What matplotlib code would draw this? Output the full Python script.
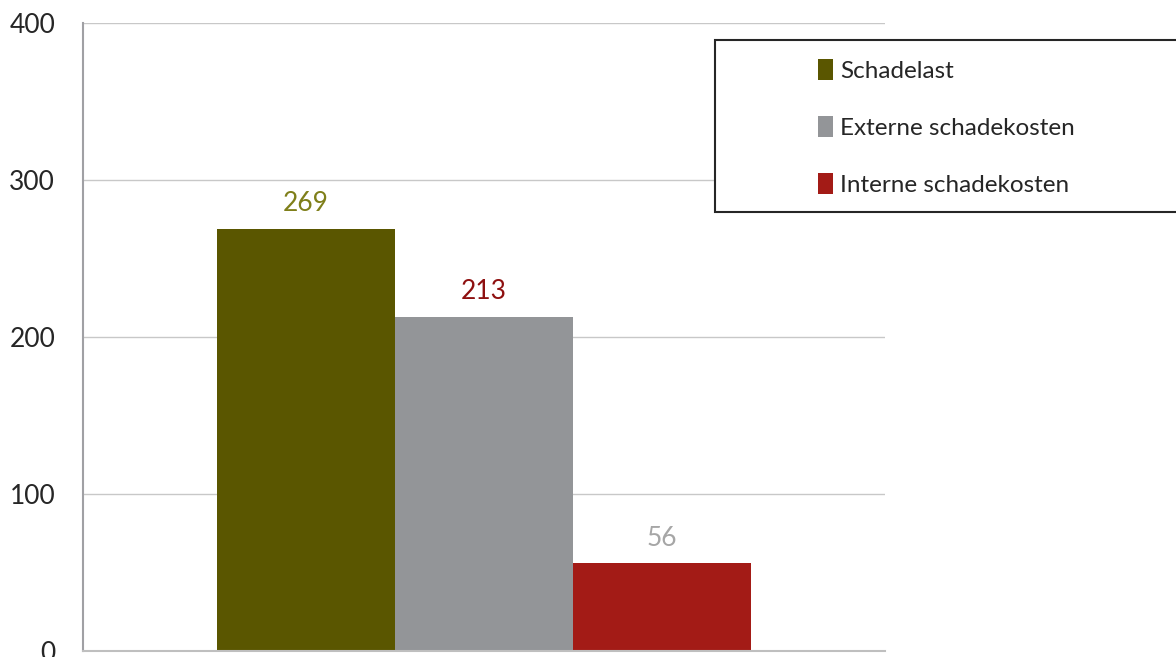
import matplotlib
matplotlib.use("Agg")
import matplotlib.pyplot as plt
from matplotlib.patches import Patch, Rectangle

plt.rcParams['font.family'] = ['Lato', 'DejaVu Sans']

series = ["Schadelast", "Externe schadekosten", "Interne schadekosten"]
values = [269, 213, 56]
bar_colors = ["#5A5600", "#939598", "#A31B16"]
label_colors = ["#7F7F1A", "#8E1010", "#A6A6A6"]
yticks = [0, 100, 200, 300, 400]

W, H = 1176, 657
fig = plt.figure(figsize=(W / 100, H / 100), dpi=100)
ax = fig.add_axes([83 / W, 1 - 651 / H, (885 - 83) / W, (651 - 23) / H])

width = 178 / 802
offsets = [-width, 0, width]
for i, (s, v) in enumerate(zip(series, values)):
    ax.bar(offsets[i], v, width=width, color=bar_colors[i], label=s, zorder=2)
    ax.annotate(str(v), (offsets[i], v), xytext=(0, 9), textcoords="offset points",
                ha="center", va="bottom", fontsize=19, color=label_colors[i])

ax.set_xlim(-0.5, 0.5)
ax.set_ylim(0, 400)
ax.set_yticks(yticks)
ax.set_xticks([])
ax.tick_params(axis="y", length=0, pad=20, labelsize=19, labelcolor="#262626")
ax.yaxis.grid(True, color="#C8C8C8", linewidth=1, zorder=0)
ax.set_axisbelow(True)
for s in ["top", "right"]:
    ax.spines[s].set_visible(False)
ax.spines["left"].set_color("#A0A0A4")
ax.spines["left"].set_linewidth(1.5)
ax.spines["bottom"].set_color("#BFBFBF")
ax.spines["bottom"].set_linewidth(1.5)

# legend box
fig.patches.append(Rectangle((715 / W, 1 - 212 / H), (W + 10 - 715) / W, (212 - 40) / H,
                             transform=fig.transFigure, fill=True, facecolor="white",
                             edgecolor="#262626", linewidth=1.5, zorder=5))
handles = [Patch(facecolor=c, edgecolor="none") for c in bar_colors]
leg = fig.legend(handles, series, loc="upper left",
                 bbox_to_anchor=(799 / W, 1 - 40 / H), bbox_transform=fig.transFigure,
                 frameon=False, fontsize=17.5, handlelength=0.6, handleheight=0.9,
                 handletextpad=0.3, labelspacing=1.42, borderpad=0.3)
for t in leg.get_texts():
    t.set_color("#262626")
leg.set_zorder(6)

fig.savefig("out.png", dpi=100)
